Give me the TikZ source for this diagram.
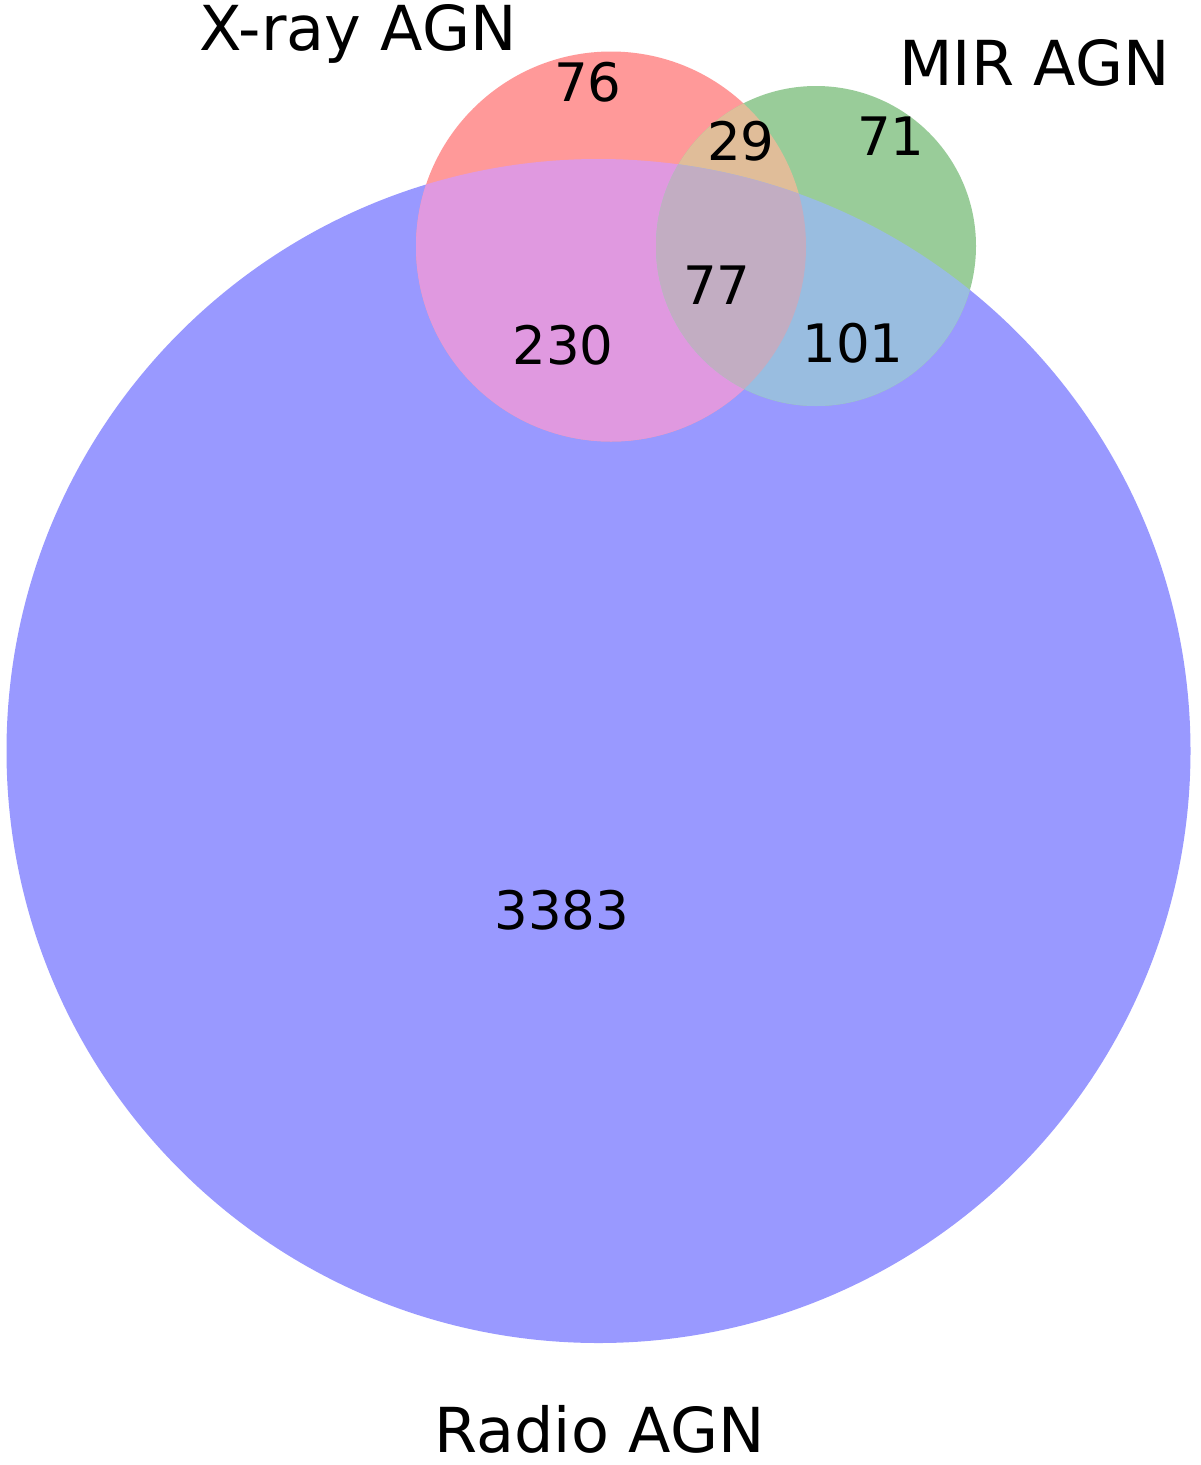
\documentclass[tikz,border=0pt]{standalone}
\usepackage{fontspec}
\setmainfont{DejaVu Sans}
\definecolor{cA}{HTML}{FF9999}
\definecolor{cB}{HTML}{99CC99}
\definecolor{cC}{HTML}{9999FF}
\definecolor{cAB}{HTML}{E0BD99}
\definecolor{cAC}{HTML}{E099E0}
\definecolor{cBC}{HTML}{99BDE0}
\definecolor{cABC}{HTML}{C2ADC2}
\begin{document}
\begin{tikzpicture}[x=1pt,y=-1pt,
  setlabel/.style={inner sep=0pt,anchor=base,font=\fontsize{62}{70}\selectfont},
  numlabel/.style={inner sep=0pt,anchor=center,font=\fontsize{53}{60}\selectfont}]
\useasboundingbox (0,0) rectangle (1200,1465);
\def\circC{(598.5,751) circle[radius=592]}
\def\circA{(611,246.5) circle[radius=195]}
\def\circB{(816,246) circle[radius=160]}
% single regions
\fill[cC] \circC;
\fill[cA] \circA;
\fill[cB] \circB;
% pairwise
\begin{scope}
  \clip \circA;
  \fill[cAC] \circC;
  \fill[cAB] \circB;
\end{scope}
\begin{scope}
  \clip \circB;
  \fill[cBC] \circC;
\end{scope}
\begin{scope}
  \clip \circA;
  \clip \circB;
  \fill[cABC] \circC;
\end{scope}
% set labels
\node[setlabel] (lx) at (358,50) {X-ray AGN};
\node[setlabel] (lm) at (1034.5,85) {MIR AGN};
\node[setlabel] (lr) at (599.5,1452) {Radio AGN};
% subset counts
\node[numlabel] (n100) at (588,82) {76};
\node[numlabel] (n110) at (741,141) {29};
\node[numlabel] (n010) at (891,136) {71};
\node[numlabel] (n111) at (717,285) {77};
\node[numlabel] (n101) at (563,345) {230};
\node[numlabel] (n011) at (853,343) {101};
\node[numlabel] (n001) at (562,910) {3383};
\end{tikzpicture}
\end{document}
